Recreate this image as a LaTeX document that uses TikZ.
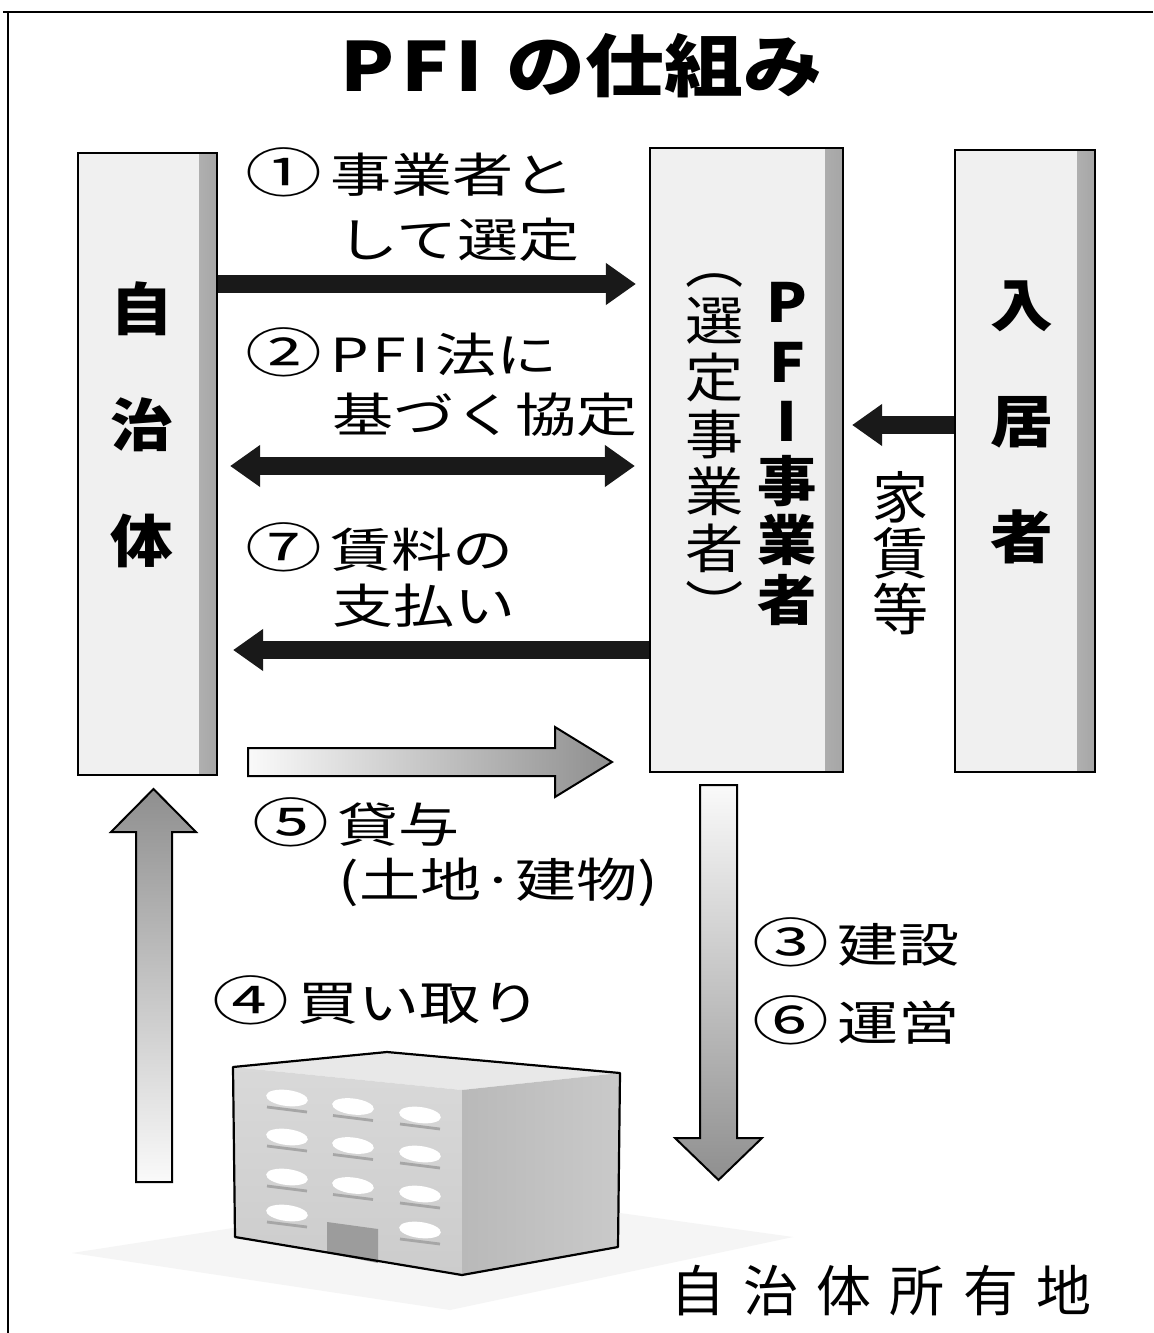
\documentclass[tikz,border=0pt]{standalone}
\usepackage{fontspec}
\usetikzlibrary{arrows.meta}
% newspaper-style flattened faces
\newfontfamily\lblfont[FakeStretch=1.3]{Noto Sans CJK JP}
\newfontfamily\numfont[FakeStretch=1.45]{Noto Sans CJK JP}
\newfontfamily\ttlfont[FakeStretch=1.16]{Noto Sans CJK JP}
\newfontfamily\boxfont[FakeStretch=1.1]{Noto Sans CJK JP}
\newfontfamily\plainjp{Noto Sans CJK JP}
\newfontfamily\sitefont[LetterSpace=33]{Noto Sans CJK JP}
\newcommand\circnum[1]{{\numfont\fontsize{26.5pt}{26.5pt}\selectfont #1}\kern4pt}

\begin{document}
\begin{tikzpicture}[x=0.5pt,y=-0.5pt,
  boxnode/.style={draw=black, line width=1.1pt, fill=gray!12, inner sep=0pt,
    path picture={\shade[left color=gray!12, right color=gray!70]
      ([xshift=-9pt]path picture bounding box.north east) rectangle (path picture bounding box.south east);}},
  boxlbl/.style={inner sep=0pt, align=center, font=\boxfont\bfseries\fontsize{28.5pt}{58pt}\selectfont},
  lbl/.style={inner sep=0pt, anchor=west, font=\lblfont\fontsize{23.5pt}{23.5pt}\selectfont},
  blk/.style={draw=black!90, line width=9pt, -{Triangle[length=15pt,width=20pt]}},
  blkboth/.style={draw=black!90, line width=9pt, {Triangle[length=15pt,width=20pt]}-{Triangle[length=15pt,width=20pt]}},
  fat/.style={draw=black, line width=1pt, line join=miter},
]
\useasboundingbox (0,0) rectangle (1153,1333);
\fill[white] (0,0) rectangle (1153,1333);

% frame
\draw[line width=1.3pt] (3,12) -- (1153,12);
\draw[line width=1.1pt] (8,12) -- (8,1333);

% title
\node[inner sep=0pt, anchor=west, font=\ttlfont\bfseries\fontsize{34pt}{34pt}\selectfont] (title) at (340,66)
  {P\kern3.5pt F\kern3pt I\kern12pt の仕組み};

% parties
\node[boxnode, minimum width=69.5pt, minimum height=311pt] (jichi) at (147.5,464) {};
\node[boxnode, minimum width=96.5pt, minimum height=312pt] (pfi) at (746.5,460) {};
\node[boxnode, minimum width=70pt, minimum height=311pt] (nyu) at (1025,461) {};

\node[boxlbl] (jichiT) at (142,425) {自\\治\\体};
\node[boxlbl] (nyuT) at (1022,422) {入\\居\\者};
\node[inner sep=0pt, align=center, font=\boxfont\bfseries\fontsize{27pt}{29.8pt}\selectfont] (pfiT) at (787,454)
  {P\\F\\I\\事\\業\\者};
\node[inner sep=0pt, align=center, font=\boxfont\fontsize{26.5pt}{28.5pt}\selectfont] (pfiSub) at (715,450)
  {︵\\選\\定\\事\\業\\者\\︶};

% flows between the parties
\coordinate (y1) at (0,284);
\coordinate (y2) at (0,466);
\coordinate (y7) at (0,650);
\coordinate (yr) at (0,425);
\draw[blk, shorten >=6.5pt] (jichi.east |- y1) -- (pfi.west |- y1);
\draw[blkboth, shorten <=6pt, shorten >=7pt] (jichi.east |- y2) -- (pfi.west |- y2);
\draw[blk, shorten >=7.5pt] (pfi.west |- y7) -- (jichi.east |- y7);
\draw[blk, shorten >=4pt] (nyu.west |- yr) -- (pfi.east |- yr);

% flow labels
\node[lbl] (l1a) at (245,172) {\circnum{①}事業者と};
\node[lbl] (l1b) at (337,240) {して選定};
\node[lbl] (l2a) at (245,352) {\circnum{②}P\kern2pt F\kern2.5pt I\kern3pt 法に};
\node[lbl] (l2b) at (332,415) {基づく協定};
\node[lbl] (l7a) at (245,547) {\circnum{⑦}賃料の};
\node[lbl] (l7b) at (332,606) {支払い};
\node[inner sep=0pt, align=center, font=\plainjp\fontsize{28pt}{28pt}\selectfont] (rent) at (900,553) {家\\賃\\等};

% lending arrow (5)
\shadedraw[fat, left color=gray!4, middle color=gray!50, right color=gray!88]
  (248,748) -- (555,748) -- (555,727) -- (612,762) -- (555,797) -- (555,776) -- (248,776) -- cycle;
\node[lbl] (l5a) at (252,822) {\circnum{⑤}貸与};
\node[lbl] (l5b) at (338,882) {(土地·建物)};

% purchase arrow (4)
\shadedraw[fat, bottom color=gray!4, middle color=gray!50, top color=gray!88]
  (136,1182) -- (136,832) -- (111,832) -- (153.5,789) -- (196,832) -- (172,832) -- (172,1182) -- cycle;
\node[lbl] (l4) at (212,1000) {\circnum{④}買い取り};

% construction / operation arrow (3)(6)
\shadedraw[fat, top color=gray!4, middle color=gray!50, bottom color=gray!88]
  (700,785) -- (737,785) -- (737,1138) -- (762,1138) -- (718.5,1180) -- (675,1138) -- (700,1138) -- cycle;
\node[lbl] (l3) at (752,942) {\circnum{③}建設};
\node[lbl] (l6) at (752,1020) {\circnum{⑥}運営};

% ground plot
\shade[left color=gray!8, middle color=gray!48, right color=gray!8]
  (72,1253) -- (233,1228) -- (620,1213) -- (793,1237) -- (450,1310) -- cycle;
% building faces
\fill[gray!18] (233,1067) -- (387,1052) -- (620,1073) -- (462,1090) -- cycle;
\shade[top color=gray!30, bottom color=gray!40] (233,1067) -- (462,1090) -- (462,1275) -- (235,1237) -- cycle;
\shade[left color=gray!55, right color=gray!42] (462,1090) -- (620,1073) -- (618,1247) -- (462,1275) -- cycle;
% windows
\foreach \r/\y in {0/1098,1/1137,2/1177,3/1213}{
  \foreach \c/\x in {0/287,1/353,2/420}{
    \ifnum\r\c=31\relax\else
      \pgfmathsetmacro\wy{\y+8.5*\c}
      \fill[white, rotate around={-7:(\x,\wy)}] (\x,\wy) ellipse (21 and 8);
      \draw[gray!70, line width=1.4pt] (\x-20,\wy+9) -- (\x+20,\wy+14);
    \fi
  }
}
% entrance
\fill[gray!78] (327,1222) -- (378,1229) -- (378,1263) -- (327,1253) -- cycle;
\draw[line width=1.1pt, line join=round]
  (233,1067) -- (387,1052) -- (620,1073) -- (618,1247) -- (462,1275) -- (235,1237) -- cycle;

\node[inner sep=0pt, anchor=west, font=\sitefont\fontsize{27.5pt}{27.5pt}\selectfont] (site) at (670,1291) {自治体所有地};
\end{tikzpicture}
\end{document}
